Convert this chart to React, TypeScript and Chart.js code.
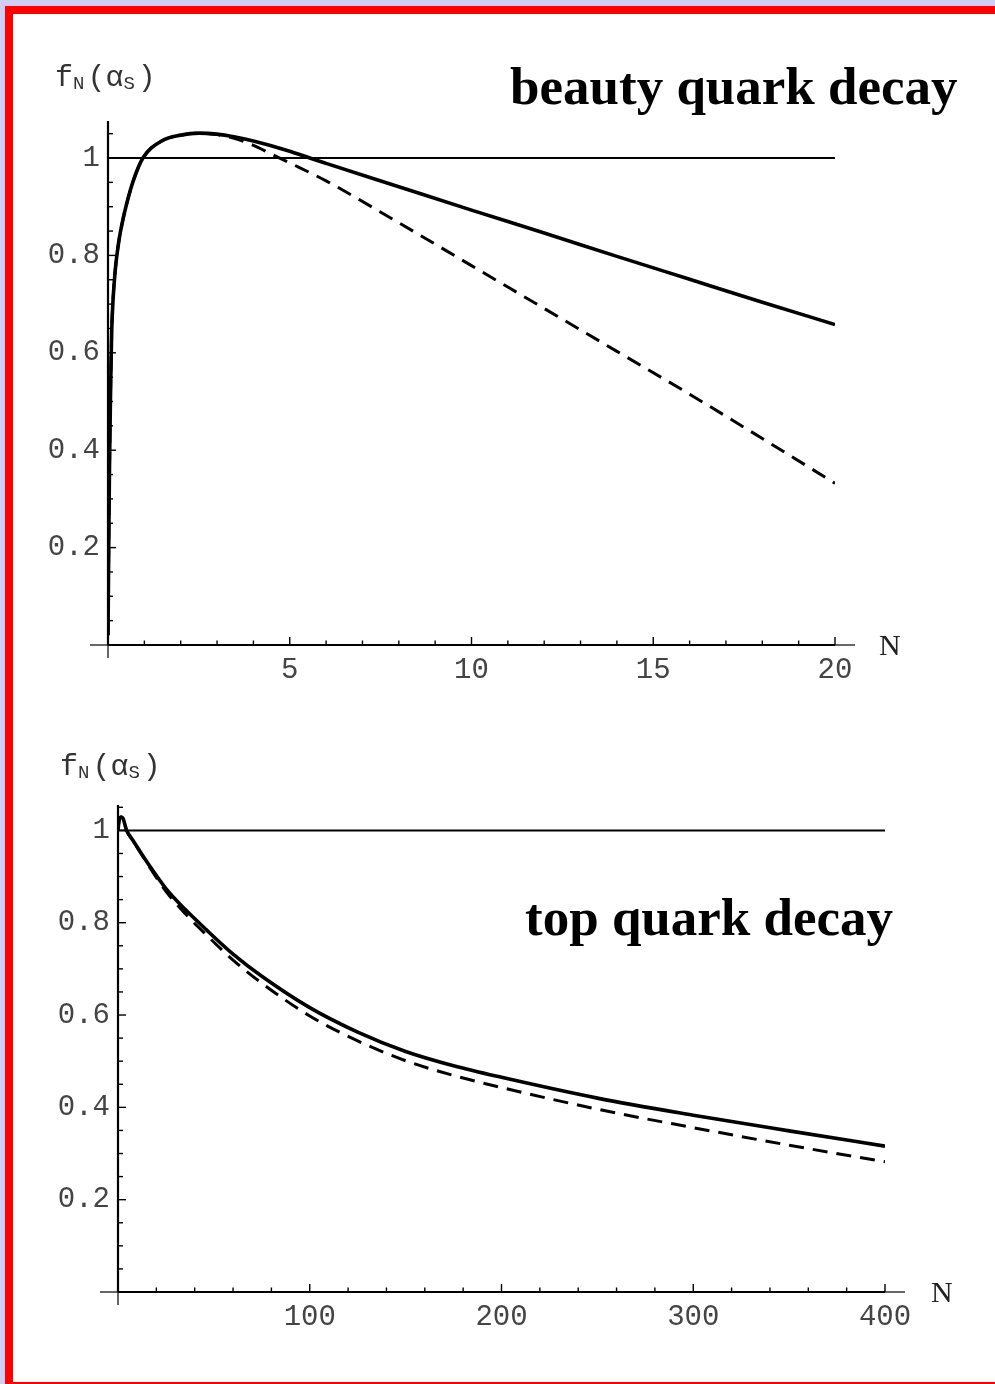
import React, { useEffect, useRef } from 'react';
import { Chart, registerables } from 'chart.js';

Chart.register(...registerables);

// ---------- beauty quark decay (upper panel) ----------
const beautySolidN = [0, 0.02, 0.04, 0.07, 0.1, 0.14, 0.2, 0.3, 0.4, 0.51, 0.69, 0.96, 1.5, 2.0, 2.5, 3.0, 3.5, 4.0, 5.0, 5.55, 6.0, 8, 10, 12, 14, 16, 18, 20];
const beautySolid = [0.02, 0.2, 0.36, 0.52, 0.64, 0.71, 0.77, 0.83, 0.87, 0.905, 0.952, 1.0, 1.036, 1.047, 1.051, 1.049, 1.043, 1.035, 1.014, 1.0, 0.989, 0.941, 0.893, 0.846, 0.798, 0.751, 0.704, 0.658];
const beautyDashedN = [0, 0.02, 0.04, 0.07, 0.1, 0.14, 0.2, 0.3, 0.4, 0.51, 0.69, 0.96, 1.5, 2.0, 2.5, 3.0, 3.5, 4.0, 4.5, 5.0, 6, 8, 10, 12, 14, 16, 18, 20];
const beautyDashed = [0.02, 0.2, 0.36, 0.52, 0.64, 0.71, 0.77, 0.83, 0.87, 0.905, 0.952, 1.0, 1.036, 1.047, 1.051, 1.048, 1.04, 1.026, 1.008, 0.99, 0.953, 0.867, 0.779, 0.691, 0.603, 0.515, 0.424, 0.332];
const beautyXTicks = [5, 10, 15, 20];
const beautyXTickLabels = ['5', '10', '15', '20'];
const beautyYTicks = [0.2, 0.4, 0.6, 0.8, 1];
const beautyYTickLabels = ['0.2', '0.4', '0.6', '0.8', '1'];

// ---------- top quark decay (lower panel) ----------
const topSolidN = [0, 0.5, 1.5, 2.5, 4.5, 8, 12, 17, 25, 35, 46, 60, 75, 100, 125, 150, 175, 200, 250, 300, 350, 400];
const topSolid = [1.0, 1.02, 1.029, 1.027, 1.0, 0.977, 0.951, 0.92, 0.874, 0.829, 0.785, 0.732, 0.684, 0.616, 0.563, 0.521, 0.49, 0.465, 0.42, 0.383, 0.349, 0.316];
const topDashedN = [0, 0.5, 1.5, 2.5, 4.5, 8, 12, 17, 25, 35, 46, 60, 75, 100, 125, 150, 175, 200, 250, 300, 350, 400];
const topDashed = [1.0, 1.02, 1.029, 1.027, 1.0, 0.977, 0.95, 0.917, 0.868, 0.82, 0.774, 0.719, 0.669, 0.598, 0.544, 0.501, 0.469, 0.443, 0.396, 0.356, 0.318, 0.282];
const topXTicks = [100, 200, 300, 400];
const topXTickLabels = ['100', '200', '300', '400'];
const topYTicks = [0.2, 0.4, 0.6, 0.8, 1];
const topYTickLabels = ['0.2', '0.4', '0.6', '0.8', '1'];

type Spec = {
  canvasTop: number;
  canvasHeight: number;
  padTop: number;
  padRight: number;
  yWidth: number;
  xHeight: number;
  xMax: number;
  yMax: number;
  xTicks: number[];
  xTickLabels: string[];
  yTicks: number[];
  yTickLabels: string[];
  xMinorStep: number;
  yMinorStep: number;
  solidN: number[];
  solid: number[];
  dashedN: number[];
  dashed: number[];
  extLeft: number;
  extRight: number;
  extDown: number;
};

const W = 995;

const axesPlugin = {
  id: 'mmaAxes',
  beforeDatasetsDraw(chart: any) {
    const spec: Spec = chart.options.plugins.mmaAxes.spec;
    const ctx = chart.ctx as CanvasRenderingContext2D;
    const xs = chart.scales.x;
    const ys = chart.scales.y;
    const x0 = xs.getPixelForValue(0);
    const x1 = xs.getPixelForValue(spec.xMax);
    const y0 = ys.getPixelForValue(0);
    const yT = ys.getPixelForValue(spec.yMax);
    const seg = (a: number, b: number, c: number, d: number) => {
      ctx.beginPath();
      ctx.moveTo(a, b);
      ctx.lineTo(c, d);
      ctx.stroke();
    };
    ctx.save();
    ctx.strokeStyle = '#000';
    ctx.lineWidth = 1.2;
    seg(x0 - spec.extLeft, y0, x0, y0);
    seg(x1, y0, x1 + spec.extRight, y0);
    seg(x0, y0, x0, y0 + spec.extDown);
    ctx.lineWidth = 2.2;
    seg(x0, y0, x1, y0);
    seg(x0, y0, x0, yT);
    ctx.lineWidth = 1.4;
    // x ticks
    for (let v = spec.xMinorStep; v <= spec.xMax + 1e-9; v += spec.xMinorStep) {
      const major = spec.xTicks.some((t) => Math.abs(t - v) < 1e-6);
      const px = xs.getPixelForValue(v);
      seg(px, y0, px, y0 - (major ? 8 : 4.5));
    }
    // y ticks
    for (let v = spec.yMinorStep; v <= spec.yMax + 1e-9; v += spec.yMinorStep) {
      const major = spec.yTicks.some((t) => Math.abs(t - v) < 1e-6);
      const py = ys.getPixelForValue(v);
      seg(x0, py, x0 + (major ? 8 : 5), py);
    }
    ctx.restore();
  },
};

function Plot({ spec }: { spec: Spec }) {
  const ref = useRef<HTMLCanvasElement | null>(null);
  useEffect(() => {
    if (!ref.current) return;
    const solidPts = spec.solidN.map((n, i) => ({ x: n, y: spec.solid[i] }));
    const dashedPts = spec.dashedN.map((n, i) => ({ x: n, y: spec.dashed[i] }));
    const unitPts = [
      { x: 0, y: 1 },
      { x: spec.xMax, y: 1 },
    ];
    const tickFont = { family: '"Liberation Mono", "DejaVu Sans Mono", monospace', size: 29 };
    const chart = new Chart(ref.current, {
      type: 'line',
      data: {
        datasets: [
          {
            data: unitPts,
            borderColor: '#000',
            borderWidth: 2,
            pointRadius: 0,
          },
          {
            data: dashedPts,
            borderColor: '#000',
            borderWidth: 3,
            borderDash: [15, 9],
            pointRadius: 0,
            cubicInterpolationMode: 'monotone',
          },
          {
            data: solidPts,
            borderColor: '#000',
            borderWidth: 3.6,
            pointRadius: 0,
            cubicInterpolationMode: 'monotone',
          },
        ],
      },
      options: {
        animation: false,
        responsive: false,
        maintainAspectRatio: false,
        events: [],
        layout: { padding: { left: 0, top: spec.padTop, right: spec.padRight, bottom: 0 } },
        plugins: {
          legend: { display: false },
          tooltip: { enabled: false },
          title: { display: false },
          mmaAxes: { spec },
        } as any,
        scales: {
          x: {
            type: 'linear',
            min: 0,
            max: spec.xMax,
            grid: { display: false, drawTicks: false },
            border: { display: false },
            afterBuildTicks: (axis: any) => {
              axis.ticks = spec.xTicks.map((v) => ({ value: v }));
            },
            afterFit: (axis: any) => {
              axis.height = spec.xHeight;
            },
            ticks: {
              autoSkip: false,
              maxRotation: 0,
              padding: 8,
              color: '#444',
              font: tickFont,
              callback: (_v: any, i: number) => spec.xTickLabels[i],
            },
          },
          y: {
            type: 'linear',
            min: 0,
            max: spec.yMax,
            grid: { display: false, drawTicks: false },
            border: { display: false },
            afterBuildTicks: (axis: any) => {
              axis.ticks = spec.yTicks.map((v) => ({ value: v }));
            },
            afterFit: (axis: any) => {
              axis.width = spec.yWidth;
            },
            ticks: {
              autoSkip: false,
              padding: 8,
              color: '#444',
              font: tickFont,
              callback: (_v: any, i: number) => spec.yTickLabels[i],
            },
          },
        },
      } as any,
      plugins: [axesPlugin],
    });
    return () => chart.destroy();
  }, [spec]);
  return (
    <canvas
      ref={ref}
      width={W}
      height={spec.canvasHeight}
      style={{ position: 'absolute', left: 0, top: spec.canvasTop, width: W, height: spec.canvasHeight }}
    />
  );
}

const beautySpec: Spec = {
  canvasTop: 0,
  canvasHeight: 700,
  padTop: 121,
  padRight: W - 835,
  yWidth: 108,
  xHeight: 55,
  xMax: 20,
  yMax: 1.076,
  xTicks: beautyXTicks,
  xTickLabels: beautyXTickLabels,
  yTicks: beautyYTicks,
  yTickLabels: beautyYTickLabels,
  xMinorStep: 1,
  yMinorStep: 0.05,
  solidN: beautySolidN,
  solid: beautySolid,
  dashedN: beautyDashedN,
  dashed: beautyDashed,
  extLeft: 18,
  extRight: 20,
  extDown: 13,
};

const topSpec: Spec = {
  canvasTop: 700,
  canvasHeight: 684,
  padTop: 105,
  padRight: W - 885,
  yWidth: 118,
  xHeight: 92,
  xMax: 400,
  yMax: 1.055,
  xTicks: topXTicks,
  xTickLabels: topXTickLabels,
  yTicks: topYTicks,
  yTickLabels: topYTickLabels,
  xMinorStep: 20,
  yMinorStep: 0.05,
  solidN: topSolidN,
  solid: topSolid,
  dashedN: topDashedN,
  dashed: topDashed,
  extLeft: 18,
  extRight: 20,
  extDown: 13,
};

const monoFont = '"Liberation Mono", "DejaVu Sans Mono", monospace';
const serifFont = '"Liberation Serif", "Times New Roman", serif';

function AxisLabel({ left, top }: { left: number; top: number }) {
  return (
    <div
      style={{
        position: 'absolute',
        left,
        top,
        fontFamily: monoFont,
        fontSize: 30,
        lineHeight: '32px',
        color: '#333',
        whiteSpace: 'nowrap',
      }}
    >
      f<sub style={{ fontSize: 19, verticalAlign: -3 }}>N</sub>
      <span style={{ marginLeft: 3 }}>(α</span>
      <sub style={{ fontSize: 19, verticalAlign: -3 }}>S</sub>
      <span style={{ marginLeft: 3 }}>)</span>
    </div>
  );
}

function NLabel({ left, top }: { left: number; top: number }) {
  return (
    <div
      style={{
        position: 'absolute',
        left,
        top,
        fontFamily: serifFont,
        fontSize: 30,
        lineHeight: '30px',
        color: '#222',
      }}
    >
      N
    </div>
  );
}

function Title({ text, left, top }: { text: string; left: number; top: number }) {
  return (
    <div
      style={{
        position: 'absolute',
        left,
        top,
        fontFamily: serifFont,
        fontWeight: 'bold',
        fontSize: 53,
        lineHeight: '53px',
        color: '#000',
        whiteSpace: 'nowrap',
      }}
    >
      {text}
    </div>
  );
}

export default function App() {
  return (
    <div
      style={{
        position: 'absolute',
        left: 0,
        top: 0,
        width: W,
        height: 1384,
        background: '#cfcff6',
        overflow: 'hidden',
      }}
    >
      <div
        style={{
          position: 'absolute',
          left: 5,
          top: 6,
          right: 0,
          bottom: 0,
          background: '#fff',
          borderLeft: '8px solid #ff0000',
          borderTop: '8px solid #ff0000',
          borderBottom: '2px solid #ff0000',
          boxSizing: 'border-box',
        }}
      />
      <Plot spec={beautySpec} />
      <Plot spec={topSpec} />
      <AxisLabel left={55} top={62} />
      <AxisLabel left={60} top={751} />
      <NLabel left={879} top={630} />
      <NLabel left={931} top={1277} />
      <Title text="beauty quark decay" left={510} top={60} />
      <Title text="top quark decay" left={525} top={891} />
    </div>
  );
}
